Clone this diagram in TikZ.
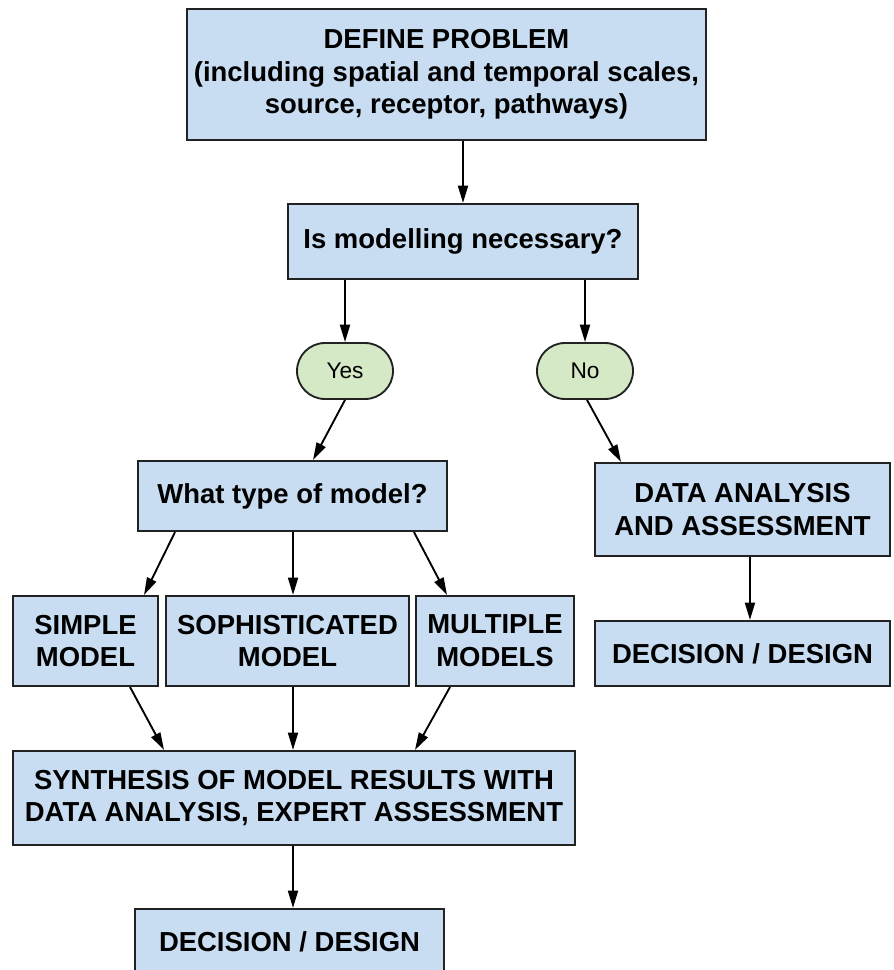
\documentclass[tikz,border=0pt]{standalone}
\usepackage{fontspec}
\setmainfont{Liberation Sans}
\usetikzlibrary{arrows.meta}
\definecolor{boxblue}{HTML}{C8DDF2}
\definecolor{ovalgreen}{HTML}{D6E9C6}
\definecolor{edge}{HTML}{222222}
\tikzset{
  box/.style={draw=edge, line width=1.6pt, fill=boxblue, inner sep=0pt, align=center,
    font=\fontsize{20.6}{24.5}\selectfont\bfseries},
  oval/.style={draw=edge, line width=1.4pt, fill=ovalgreen, inner sep=0pt, align=center,
    rounded corners=21pt, minimum width=72pt, minimum height=42pt,
    font=\fontsize{17}{20}\selectfont},
  arr/.style={draw=black, line width=1.4pt, -{Triangle[length=13pt,width=7.5pt]}}
}
\begin{document}
\begin{tikzpicture}[x=0.75pt,y=-0.75pt]
\useasboundingbox (0,0) rectangle (893,970);
\clip (0,0) rectangle (893,970);
\node[box, minimum width=389.25pt, minimum height=98.25pt] (def) at (446.5,74.5)
  {DEFINE PROBLEM\\(including spatial and temporal scales,\\source, receptor, pathways)};
\node[box, minimum width=262.5pt, minimum height=56.25pt] (isnec) at (463,241.5) {Is modelling necessary?};
\node[oval] (yes) at (345,371) {Yes};
\node[oval] (no) at (585,371) {No};
\node[box, minimum width=231.75pt, minimum height=52.5pt] (what) at (292.5,496) {What type of model?};
\node[box, minimum width=221.25pt, minimum height=69.75pt] (data) at (742.5,509.5) {DATA ANALYSIS\\AND ASSESSMENT};
\node[box, minimum width=221.25pt, minimum height=48.75pt] (decR) at (742.5,653.5) {DECISION / DESIGN};
\node[box, minimum width=108.75pt, minimum height=67.5pt] (simple) at (85.5,641) {SIMPLE\\MODEL};
\node[box, minimum width=182.25pt, minimum height=67.5pt] (soph) at (287.5,641) {SOPHISTICATED\\MODEL};
\node[box, minimum width=118.5pt, minimum height=67.5pt] (multi) at (495,641) {MULTIPLE\\MODELS};
\node[box, minimum width=421.5pt, minimum height=70.5pt] (synth) at (294,798)
  {SYNTHESIS OF MODEL RESULTS WITH\\DATA ANALYSIS, EXPERT ASSESSMENT};
\node[box, minimum width=231.75pt, minimum height=48.75pt] (decB) at (289.5,941.5) {DECISION / DESIGN};

\draw[arr] (isnec.north |- def.south) -- (isnec.north);
\draw[arr] (yes.north |- isnec.south) -- (yes.north);
\draw[arr] (no.north |- isnec.south) -- (no.north);
\draw[arr] (yes.south) -- ([xshift=15.4pt]what.north);
\draw[arr] ([xshift=1.5pt]no.south) -- ([xshift=-91.1pt]data.north);
\draw[arr] ([xshift=5.6pt]data.south) -- ([xshift=5.6pt]decR.north);
\draw[arr] ([xshift=-88.1pt]what.south) -- ([xshift=43.9pt]simple.north);
\draw[arr] ([xshift=0.4pt]what.south) -- ([xshift=0.4pt]what.south |- soph.north);
\draw[arr] ([xshift=33.4pt]simple.south) -- ([xshift=-97.5pt]synth.north);
\draw[arr] ([xshift=91.1pt]what.south) -- ([xshift=-36pt]multi.north);
\draw[arr] ([xshift=-0.75pt]synth.north |- soph.south) -- ([xshift=-0.75pt]synth.north);
\draw[arr] ([xshift=-33.75pt]multi.south) -- ([xshift=90.75pt]synth.north);
\draw[arr] ([xshift=-0.75pt]synth.south) -- ([xshift=-0.75pt]synth.south |- decB.north);
\end{tikzpicture}
\end{document}
